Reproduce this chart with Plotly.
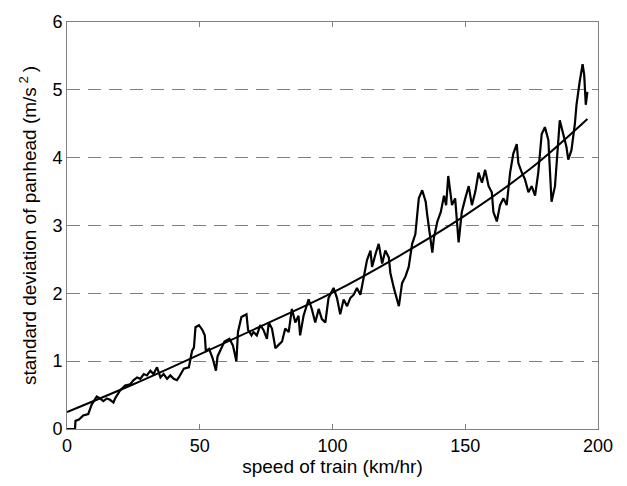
import plotly.graph_objects as go

# Measured (noisy) curve: speed (km/hr) and std dev (m/s^2)
speed = [0, 1, 2, 3, 3.2, 4.5, 6.1, 8, 9.3, 11.2, 12.4, 13.7, 15, 16.2, 17.5, 18.1, 20, 21.9, 23.8,
         25.1, 26.4, 27.6, 28.9, 30.1, 31.4, 32.6, 33.9, 35.2, 36.4, 37.7, 38.9, 40.2, 41.4, 42.1,
         44, 45.9, 47.1, 47.8, 48.4, 49.7, 51, 51.9, 52.3, 53.5, 54.8, 56.1, 56.7, 58, 59.3, 61.2,
         62.5, 63.8, 64.4, 65.7, 67.6, 68.2, 69.5, 70.2, 71.5, 72.8, 74.0, 75.3, 76, 77.2, 78.5,
         79.7, 81, 82.2, 83.5, 84.7, 86, 87.2, 87.8, 89.1, 91, 92.2, 93.5, 94.8, 96, 97.3, 98.5,
         100.4, 101.7, 102.9, 104.2, 105.5, 106.7, 108, 109.2, 110.5, 111.8, 113, 114.3, 114.9,
         116.2, 117.4, 118.7, 119.9, 121.2, 121.8, 123.1, 124.3, 125, 126.2, 127.5, 128.7, 130,
         131.2, 131.9, 132.5, 133.8, 135.1, 135.7, 137, 137.6, 138.2, 139.5, 140.8, 142, 142.8,
         143.6, 145, 146.2, 147.5, 148.7, 150, 151.3, 152.5, 153.8, 155, 156.3, 157.5, 158.8,
         160, 160.6, 161.9, 163.1, 164.4, 165.6, 166.9, 168.1, 169.4, 170, 171.3, 172.5, 173.8,
         175, 176.3, 177.5, 178.8, 180, 181.3, 181.9, 182.5, 183.8, 185, 185.6, 186.9, 188.1,
         188.8, 190, 191.3, 191.9, 193.1, 194.2, 194.8, 195.4, 196]
std_dev = [0, 0, 0, 0, 0.12, 0.14, 0.2, 0.22, 0.36, 0.48, 0.45, 0.41, 0.45, 0.43, 0.39, 0.45, 0.57,
           0.64, 0.66, 0.72, 0.76, 0.74, 0.81, 0.79, 0.86, 0.81, 0.91, 0.76, 0.81, 0.74, 0.79, 0.74,
           0.72, 0.76, 0.89, 0.91, 1.15, 1.2, 1.5, 1.53, 1.46, 1.38, 1.15, 1.18, 1.05, 0.86, 1.07,
           1.18, 1.29, 1.33, 1.23, 1.0, 1.43, 1.65, 1.69, 1.46, 1.38, 1.43, 1.38, 1.53, 1.46, 1.33,
           1.57, 1.48, 1.19, 1.24, 1.29, 1.48, 1.43, 1.77, 1.57, 1.67, 1.38, 1.67, 1.91, 1.77, 1.57,
           1.77, 1.62, 1.57, 1.93, 2.08, 1.93, 1.69, 1.91, 1.81, 1.93, 1.98, 2.08, 1.98, 2.25, 2.49,
           2.63, 2.39, 2.58, 2.73, 2.44, 2.63, 2.53, 2.3, 2.08, 1.93, 1.81, 2.15, 2.25, 2.39, 2.73,
           2.87, 3.2, 3.4, 3.52, 3.35, 3.15, 2.82, 2.6, 2.82, 3.06, 3.2, 3.44, 3.3, 3.73, 3.3, 3.4,
           2.75, 3.2, 3.4, 3.58, 3.3, 3.5, 3.78, 3.63, 3.82, 3.58, 3.49, 3.2, 3.06, 3.3, 3.4, 3.3,
           3.78, 4.06, 4.2, 3.92, 3.78, 3.68, 3.49, 3.58, 3.44, 3.78, 4.35, 4.45, 4.26, 3.78, 3.35,
           3.58, 4.26, 4.55, 4.35, 4.16, 3.97, 4.11, 4.5, 4.78, 5.12, 5.38, 5.22, 4.78, 4.97]

# Smooth fitted trend
fit_speed = [0, 25, 50, 75, 100, 125, 150, 175, 196]
fit_std = [0.25, 0.66, 1.1, 1.55, 2.01, 2.55, 3.15, 3.85, 4.57]

x_ticks = [0, 50, 100, 150, 200]
y_ticks = [0, 1, 2, 3, 4, 5, 6]

fig = go.Figure()
fig.add_trace(go.Scatter(x=speed, y=std_dev, mode="lines",
                         line=dict(color="black", width=2.2), showlegend=False))
fig.add_trace(go.Scatter(x=fit_speed, y=fit_std, mode="lines",
                         line=dict(color="black", width=2, shape="spline"), showlegend=False))

axis_font = dict(family="Liberation Sans, Arial, sans-serif", size=18, color="black")
fig.update_layout(
    width=627, height=486,
    margin=dict(l=67, r=29, t=12, b=56),
    paper_bgcolor="white", plot_bgcolor="white",
    font=axis_font,
    xaxis=dict(range=[0, 200], tickvals=x_ticks, showgrid=False, zeroline=False,
               showline=True, linecolor="#808080", linewidth=1, mirror="ticks",
               ticks="inside", ticklen=5, tickcolor="#808080",
               title=dict(text="speed of train (km/hr)", font=dict(size=19), standoff=5)),
    yaxis=dict(range=[0, 6], tickvals=y_ticks, showgrid=True, gridcolor="#808080",
               gridwidth=1, griddash="13px,8px", zeroline=False,
               showline=True, linecolor="#808080", linewidth=1, mirror="ticks",
               ticks="inside", ticklen=5, tickcolor="#808080",
               title=dict(text="standard deviation of panhead (m/s<sup> 2 </sup>)",
                          font=dict(size=19), standoff=10)),
)
fig.write_html("out.html")
